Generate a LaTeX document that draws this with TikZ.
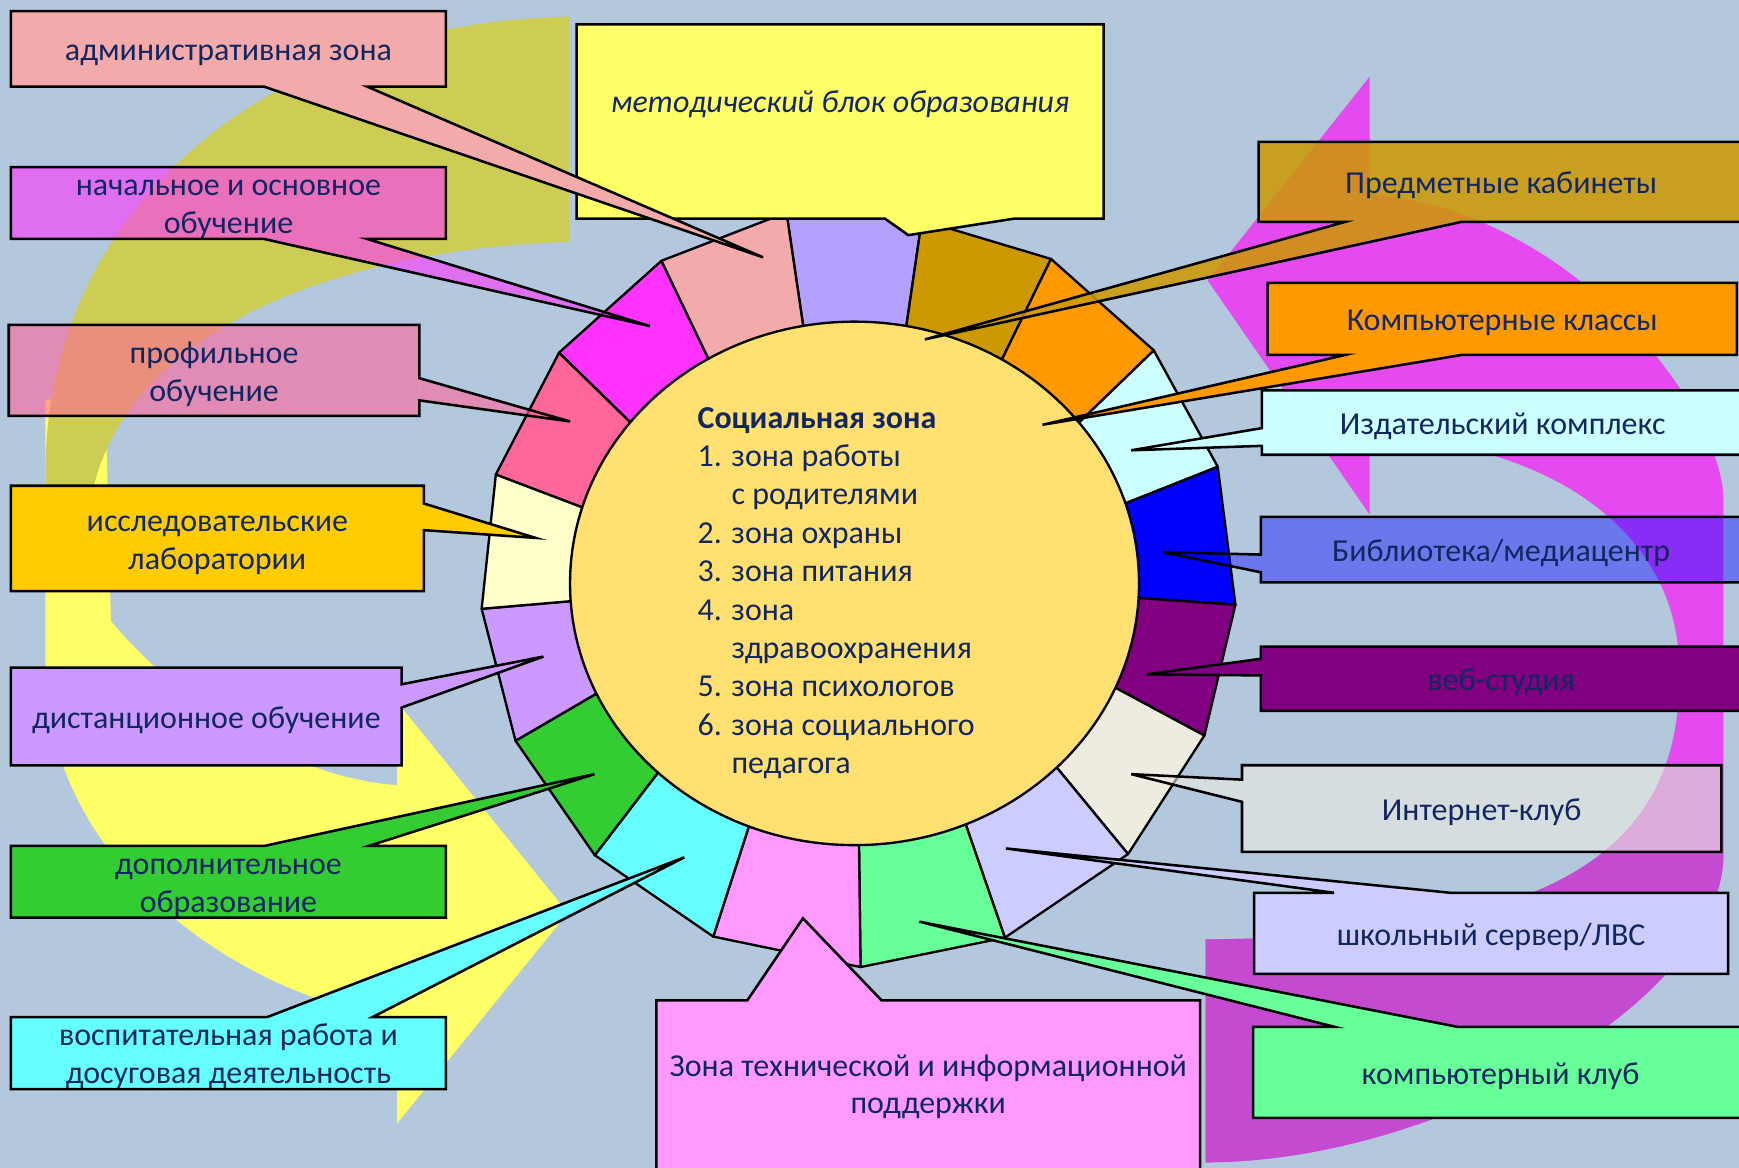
\documentclass[tikz,border=0pt]{standalone}
\usepackage{fontspec}
\setmainfont{Carlito}
\usetikzlibrary{calc}

\definecolor{bgZ}{RGB}{179,199,221}
\definecolor{navyZ}{RGB}{18,38,98}
\definecolor{yellowZ}{RGB}{255,255,102}
\definecolor{oliveZ}{RGB}{205,205,85}
\definecolor{magA}{RGB}{228,74,240}
\definecolor{magB}{RGB}{196,75,208}
\definecolor{sunZ}{RGB}{255,224,112}
\definecolor{salmonZ}{RGB}{243,170,170}
\definecolor{methY}{RGB}{255,255,102}
\definecolor{magZ}{RGB}{255,51,255}
\definecolor{pinkredZ}{RGB}{255,102,153}
\definecolor{amberZ}{RGB}{255,204,0}
\definecolor{lpurpleZ}{RGB}{204,153,255}
\definecolor{greenZ}{RGB}{51,204,51}
\definecolor{cyanZ}{RGB}{102,255,255}
\definecolor{pinkZ}{RGB}{255,153,255}
\definecolor{goldZ}{RGB}{204,153,0}
\definecolor{orangeZ}{RGB}{255,153,0}
\definecolor{lcyanZ}{RGB}{204,255,255}
\definecolor{blueZ}{RGB}{0,0,255}
\definecolor{purpleZ}{RGB}{128,0,128}
\definecolor{beigeZ}{RGB}{238,236,225}
\definecolor{llavZ}{RGB}{204,204,255}
\definecolor{lgreenZ}{RGB}{102,255,153}
\definecolor{lavZ}{RGB}{179,160,255}
\definecolor{lyellowZ}{RGB}{255,255,204}

\newcommand\zfont{\fontsize{8.2}{9.7}\selectfont}
\newcommand\zup{\rule{0pt}{2.6mm}}

\begin{document}
\begin{tikzpicture}[x=0.01cm, y=-0.01cm,
  zbox/.style={rectangle, inner sep=0pt, outer sep=0pt, align=center, text=navyZ, text opacity=1, font=\zfont},
  zline/.style={draw=black, line width=0.65pt},
  seg/.style={draw=black, line width=0.6pt, line join=round}
]

\useasboundingbox (0,0) rectangle (1568,1053);
\fill[bgZ] (0,0) rectangle (1568,1053);

% curved arrows in the back
\fill[yellowZ] (41,360) -- (41,600) .. controls (41,780) and (220,900) .. (358,918) -- (358,1013) -- (512,823) -- (358,633) -- (358,708) .. controls (250,700) and (150,620) .. (100,560) -- (95,360) -- cycle;
\fill[oliveZ] (513,15) .. controls (250,20) and (45,180) .. (41,420) -- (41,470) -- (82,470) -- (82,450) .. controls (110,300) and (300,225) .. (513,218) -- cycle;
\fill[magA] (1235,175) -- (1235,69) -- (1089,253) -- (1235,464) -- (1235,395) .. controls (1380,395) and (1512,470) .. (1514,600) .. controls (1520,780) and (1380,845) .. (1087,847) -- (1087,1048) .. controls (1300,1048) and (1554,900) .. (1554,770) -- (1554,451) .. controls (1554,370) and (1420,190) .. (1235,175) -- cycle;
\begin{scope}
  \clip (1000,690) rectangle (1600,1100);
  \fill[magB] (1514,600) .. controls (1520,780) and (1380,845) .. (1087,847) -- (1087,1048) .. controls (1300,1048) and (1554,900) .. (1554,770) -- (1554,451) -- cycle;
\end{scope}

% ring of zones
\begin{scope}[shift={(770.5,526)}]
  \filldraw[seg, fill=lavZ] (259.6:256.5 and 236) -- (259.6:340) -- (280.5:333) -- (280.5:256.5 and 236) -- cycle;
  \filldraw[seg, fill=goldZ] (280.5:256.5 and 236) -- (280.5:333) -- (301.2:342) -- (301.2:256.5 and 236) -- cycle;
  \filldraw[seg, fill=orangeZ] (301.2:256.5 and 236) -- (301.2:342) -- (322.1:342) -- (322.1:256.5 and 236) -- cycle;
  \filldraw[seg, fill=lcyanZ] (322.1:256.5 and 236) -- (322.1:342) -- (342.2:344) -- (342.2:256.5 and 236) -- cycle;
  \filldraw[seg, fill=blueZ] (342.2:256.5 and 236) -- (342.2:344) -- (3.2:344) -- (3.2:256.5 and 236) -- cycle;
  \filldraw[seg, fill=purpleZ] (3.2:256.5 and 236) -- (3.2:344) -- (23.5:344) -- (23.5:256.5 and 236) -- cycle;
  \filldraw[seg, fill=beigeZ] (23.5:256.5 and 236) -- (23.5:344) -- (44.7:347) -- (44.7:256.5 and 236) -- cycle;
  \filldraw[seg, fill=llavZ] (44.7:256.5 and 236) -- (44.7:347) -- (67:347) -- (67:256.5 and 236) -- cycle;
  \filldraw[seg, fill=lgreenZ] (67:256.5 and 236) -- (67:347) -- (89.1:346) -- (89.1:256.5 and 236) -- cycle;
  \filldraw[seg, fill=pinkZ] (89.1:256.5 and 236) -- (89.1:346) -- (111.8:343) -- (111.8:256.5 and 236) -- cycle;
  \filldraw[seg, fill=cyanZ] (111.8:256.5 and 236) -- (111.8:343) -- (133.7:339) -- (133.7:256.5 and 236) -- cycle;
  \filldraw[seg, fill=greenZ] (133.7:256.5 and 236) -- (133.7:339) -- (155.1:337) -- (155.1:256.5 and 236) -- cycle;
  \filldraw[seg, fill=lpurpleZ] (155.1:256.5 and 236) -- (155.1:337) -- (176.1:337) -- (176.1:256.5 and 236) -- cycle;
  \filldraw[seg, fill=lyellowZ] (176.1:256.5 and 236) -- (176.1:337) -- (196.9:338) -- (196.9:256.5 and 236) -- cycle;
  \filldraw[seg, fill=pinkredZ] (196.9:256.5 and 236) -- (196.9:338) -- (218:338) -- (218:256.5 and 236) -- cycle;
  \filldraw[seg, fill=magZ] (218:256.5 and 236) -- (218:338) -- (239.1:339) -- (239.1:256.5 and 236) -- cycle;
  \filldraw[seg, fill=salmonZ] (239.1:256.5 and 236) -- (239.1:339) -- (259.6:340) -- (259.6:256.5 and 236) -- cycle;
  \filldraw[seg, fill=sunZ] (0,0) ellipse [x radius=256.5, y radius=236];
\end{scope}

\node[zbox, align=left, anchor=north west, font=\fontsize{8.2}{9.85}\selectfont] (social) at (629,367)
  {\textbf{Социальная зона}\\1. зона работы\\\phantom{1. }с родителями\\2. зона охраны\\3. зона питания\\4. зона\\\phantom{4. }здравоохранения\\5. зона психологов\\6. зона социального\\\phantom{6. }педагога};

% callouts, left column
\node[zbox, fill=methY, minimum width=4.75cm, minimum height=1.75cm, text height=2mm, text depth=3.54mm, font=\zfont\itshape] (method) at (757.5,109.5) {методический блок образования};
\coordinate (tMethod) at (819,212);
\fill[methY] ($(method.south west)+(278,0)$) -- (tMethod) -- ($(method.south west)+(395,0)$) -- cycle;
\draw[zline] (method.north west) -- (method.north east) -- (method.south east) -- ($(method.south west)+(395,0)$) -- (tMethod) -- ($(method.south west)+(278,0)$) -- (method.south west) -- cycle;

\node[zbox, fill=salmonZ, minimum width=3.92cm, minimum height=0.68cm] (admin) at (206,44) {\zup административная зона};
\coordinate (tAdmin) at (688,232);
\fill[salmonZ] ($(admin.south west)+(228,0)$) -- (tAdmin) -- ($(admin.south west)+(321,0)$) -- cycle;
\draw[zline] (admin.north west) -- (admin.north east) -- (admin.south east) -- ($(admin.south west)+(321,0)$) -- (tAdmin) -- ($(admin.south west)+(228,0)$) -- (admin.south west) -- cycle;

\node[zbox, fill=magZ, fill opacity=0.6, minimum width=3.92cm, minimum height=0.62cm] (basic) at (206,183) {\zup начальное и основное\\обучение};
\coordinate (tBasic) at (586,294);
\fill[magZ, fill opacity=0.6] ($(basic.south west)+(228,0)$) -- (tBasic) -- ($(basic.south west)+(321,0)$) -- cycle;
\draw[zline] (basic.north west) -- (basic.north east) -- (basic.south east) -- ($(basic.south west)+(321,0)$) -- (tBasic) -- ($(basic.south west)+(228,0)$) -- (basic.south west) -- cycle;

\node[zbox, fill=pinkredZ, fill opacity=0.6, minimum width=3.70cm, minimum height=0.82cm] (profile) at (193,334) {\zup профильное\\обучение};
\coordinate (tProfile) at (514,380);
\fill[pinkredZ, fill opacity=0.6] ($(profile.north east)+(0,48)$) -- (tProfile) -- ($(profile.north east)+(0,68)$) -- cycle;
\draw[zline] (profile.north west) -- (profile.north east) -- ($(profile.north east)+(0,48)$) -- (tProfile) -- ($(profile.north east)+(0,68)$) -- (profile.south east) -- (profile.south west) -- cycle;

\node[zbox, fill=amberZ, minimum width=3.72cm, minimum height=0.95cm] (labs) at (196,485.5) {\zup исследовательские\\лаборатории};
\coordinate (tLabs) at (483,485);
\fill[amberZ] ($(labs.north east)+(0,16)$) -- (tLabs) -- ($(labs.north east)+(0,40)$) -- cycle;
\draw[zline] (labs.north west) -- (labs.north east) -- ($(labs.north east)+(0,16)$) -- (tLabs) -- ($(labs.north east)+(0,40)$) -- (labs.south east) -- (labs.south west) -- cycle;

\node[zbox, fill=lpurpleZ, minimum width=3.52cm, minimum height=0.88cm] (remote) at (186,646) {\zup дистанционное обучение};
\coordinate (tRemote) at (490,592);
\fill[lpurpleZ] ($(remote.north east)+(0,15)$) -- (tRemote) -- ($(remote.north east)+(0,36)$) -- cycle;
\draw[zline] (remote.north west) -- (remote.north east) -- ($(remote.north east)+(0,15)$) -- (tRemote) -- ($(remote.north east)+(0,36)$) -- (remote.south east) -- (remote.south west) -- cycle;

\node[zbox, fill=greenZ, minimum width=3.92cm, minimum height=0.62cm] (extra) at (206,795) {\zup дополнительное\\образование};
\coordinate (tExtra) at (536,698);
\fill[greenZ] ($(extra.north west)+(229,0)$) -- (tExtra) -- ($(extra.north west)+(323,0)$) -- cycle;
\draw[zline] (extra.south west) -- (extra.south east) -- (extra.north east) -- ($(extra.north west)+(323,0)$) -- (tExtra) -- ($(extra.north west)+(229,0)$) -- (extra.north west) -- cycle;

\node[zbox, fill=cyanZ, minimum width=3.92cm, minimum height=0.63cm] (leisure) at (206,949.5) {\zup воспитательная работа и\\досуговая деятельность};
\coordinate (tLeisure) at (617,773);
\fill[cyanZ] ($(leisure.north west)+(231,0)$) -- (tLeisure) -- ($(leisure.north west)+(326,0)$) -- cycle;
\draw[zline] (leisure.south west) -- (leisure.south east) -- (leisure.north east) -- ($(leisure.north west)+(326,0)$) -- (tLeisure) -- ($(leisure.north west)+(231,0)$) -- (leisure.north west) -- cycle;

\node[zbox, fill=pinkZ, minimum width=4.90cm, minimum height=1.56cm] (tech) at (837,980) {Зона технической и информационной\\поддержки};
\coordinate (tTech) at (724,828);
\fill[pinkZ] ($(tech.north west)+(82,0)$) -- (tTech) -- ($(tech.north west)+(203,0)$) -- cycle;
\draw[zline] (tech.south west) -- (tech.south east) -- (tech.north east) -- ($(tech.north west)+(203,0)$) -- (tTech) -- ($(tech.north west)+(82,0)$) -- (tech.north west) -- cycle;

% callouts, right column
\node[zbox, fill=goldZ, fill opacity=0.85, minimum width=4.37cm, minimum height=0.72cm] (subject) at (1353.5,164) {\zup Предметные кабинеты};
\coordinate (tSubject) at (834,306);
\fill[goldZ, fill opacity=0.85] ($(subject.south west)+(78,0)$) -- (tSubject) -- ($(subject.south west)+(183,0)$) -- cycle;
\draw[zline] (subject.north west) -- (subject.north east) -- (subject.south east) -- ($(subject.south west)+(183,0)$) -- (tSubject) -- ($(subject.south west)+(78,0)$) -- (subject.south west) -- cycle;

\node[zbox, fill=orangeZ, minimum width=4.23cm, minimum height=0.65cm] (pcroom) at (1354.5,287.5) {\zup Компьютерные классы};
\coordinate (tPcroom) at (940,383);
\fill[orangeZ] ($(pcroom.south west)+(70,0)$) -- (tPcroom) -- ($(pcroom.south west)+(175,0)$) -- cycle;
\draw[zline] (pcroom.north west) -- (pcroom.north east) -- (pcroom.south east) -- ($(pcroom.south west)+(175,0)$) -- (tPcroom) -- ($(pcroom.south west)+(70,0)$) -- (pcroom.south west) -- cycle;

\node[zbox, fill=lcyanZ, minimum width=4.34cm, minimum height=0.58cm] (press) at (1355,381) {\zup Издательский комплекс};
\coordinate (tPress) at (1020,406);
\fill[lcyanZ] ($(press.north west)+(0,34)$) -- (tPress) -- ($(press.north west)+(0,50)$) -- cycle;
\draw[zline] (press.north east) -- (press.north west) -- ($(press.north west)+(0,34)$) -- (tPress) -- ($(press.north west)+(0,50)$) -- (press.south west) -- (press.south east) -- cycle;

\node[zbox, fill=blueZ, fill opacity=0.4, minimum width=4.33cm, minimum height=0.59cm] (library) at (1353.5,495.5) {\zup Библиотека/медиацентр};
\coordinate (tLibrary) at (1049,498);
\fill[blueZ, fill opacity=0.4] ($(library.north west)+(0,34)$) -- (tLibrary) -- ($(library.north west)+(0,50)$) -- cycle;
\draw[zline] (library.north east) -- (library.north west) -- ($(library.north west)+(0,34)$) -- (tLibrary) -- ($(library.north west)+(0,50)$) -- (library.south west) -- (library.south east) -- cycle;

\node[zbox, fill=purpleZ, minimum width=4.33cm, minimum height=0.58cm] (web) at (1353.5,612) {\zup веб-студия};
\coordinate (tWeb) at (1034,608);
\fill[purpleZ] ($(web.north west)+(0,11)$) -- (tWeb) -- ($(web.north west)+(0,26)$) -- cycle;
\draw[zline] (web.north east) -- (web.north west) -- ($(web.north west)+(0,11)$) -- (tWeb) -- ($(web.north west)+(0,26)$) -- (web.south west) -- (web.south east) -- cycle;

\node[zbox, fill=beigeZ, fill opacity=0.6, minimum width=4.32cm, minimum height=0.78cm] (inet) at (1336,729) {\zup Интернет-клуб};
\coordinate (tInet) at (1020,698);
\fill[beigeZ, fill opacity=0.6] ($(inet.north west)+(0,13)$) -- (tInet) -- ($(inet.north west)+(0,33)$) -- cycle;
\draw[zline] (inet.north east) -- (inet.north west) -- ($(inet.north west)+(0,13)$) -- (tInet) -- ($(inet.north west)+(0,33)$) -- (inet.south west) -- (inet.south east) -- cycle;

\node[zbox, fill=llavZ, minimum width=4.27cm, minimum height=0.73cm] (server) at (1344.5,841.5) {\zup школьный сервер/ЛВС};
\coordinate (tServer) at (907,765);
\fill[llavZ] ($(server.north west)+(72,0)$) -- (tServer) -- ($(server.north west)+(177,0)$) -- cycle;
\draw[zline] (server.south west) -- (server.south east) -- (server.north east) -- ($(server.north west)+(177,0)$) -- (tServer) -- ($(server.north west)+(72,0)$) -- (server.north west) -- cycle;

\node[zbox, fill=lgreenZ, minimum width=4.46cm, minimum height=0.82cm] (pcclub) at (1353,967) {\zup компьютерный клуб};
\coordinate (tPcclub) at (829,831);
\fill[lgreenZ] ($(pcclub.north west)+(74,0)$) -- (tPcclub) -- ($(pcclub.north west)+(185,0)$) -- cycle;
\draw[zline] (pcclub.south west) -- (pcclub.south east) -- (pcclub.north east) -- ($(pcclub.north west)+(185,0)$) -- (tPcclub) -- ($(pcclub.north west)+(74,0)$) -- (pcclub.north west) -- cycle;

\end{tikzpicture}
\end{document}
